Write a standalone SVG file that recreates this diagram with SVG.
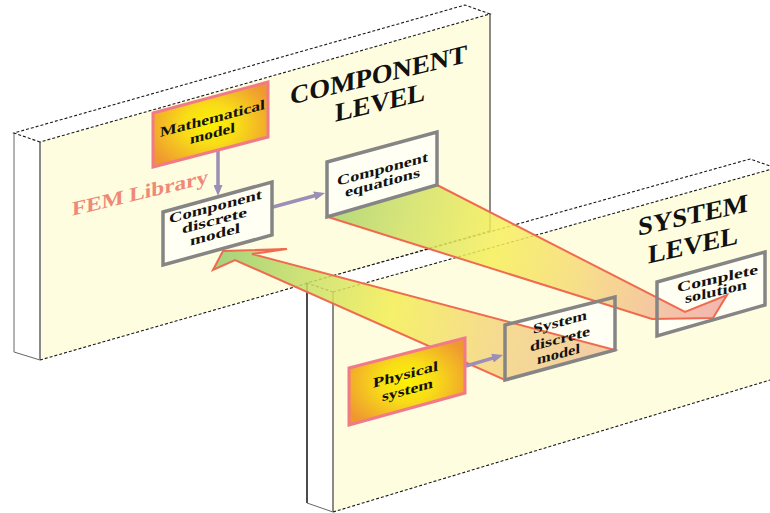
<svg xmlns="http://www.w3.org/2000/svg" width="770" height="513" viewBox="0 0 770 513">
<defs>
<style>
.dash{fill:none;stroke:#1a1a1a;stroke-width:1.1;stroke-dasharray:3 2}
.face{fill:#fefddf}
.side{fill:#ffffff}
.edge{fill:none;stroke:#8a8a8a;stroke-width:2}
.edgek{fill:none;stroke:#111;stroke-width:1.5}
.thin{fill:none;stroke:#666;stroke-width:1}
.box{fill:none;stroke:#858585;stroke-width:3.5;stroke-linejoin:miter}
.boxfill{fill:#fffff3}
.src{fill:url(#srcGrad);stroke:#f07a88;stroke-width:3}
.t{font-family:"Liberation Serif","Times New Roman",serif;font-weight:bold;font-size:14px;fill:#111;text-anchor:middle}
.title{font-size:26px}
.fem{font-size:20px;fill:#f08878}
.link{stroke:#9c8eb6;stroke-width:3.5;fill:none;marker-end:url(#ah)}
.big{stroke:#f06a50;stroke-width:2;stroke-linejoin:miter;fill-opacity:0.85}
</style>
<radialGradient id="srcGrad" cx="0.5" cy="0.5" r="0.6">
<stop offset="0" stop-color="#fff200"/>
<stop offset="0.4" stop-color="#f8dc18"/>
<stop offset="1" stop-color="#ef9830"/>
</radialGradient>
<linearGradient id="g1" gradientUnits="userSpaceOnUse" x1="330" y1="205" x2="720" y2="315">
<stop offset="0" stop-color="#a9d26a"/>
<stop offset="0.18" stop-color="#cfe068"/>
<stop offset="0.42" stop-color="#f6ef5a"/>
<stop offset="0.62" stop-color="#f6dc78"/>
<stop offset="0.85" stop-color="#f3bc98"/>
<stop offset="1" stop-color="#f0aaa4"/>
</linearGradient>
<linearGradient id="g2" gradientUnits="userSpaceOnUse" x1="215" y1="255" x2="610" y2="360">
<stop offset="0" stop-color="#96cb6c"/>
<stop offset="0.2" stop-color="#c2dc66"/>
<stop offset="0.45" stop-color="#f4ee56"/>
<stop offset="0.7" stop-color="#f4d680"/>
<stop offset="1" stop-color="#f0c498"/>
</linearGradient>
<marker id="ah" markerUnits="userSpaceOnUse" markerWidth="11" markerHeight="9" refX="2" refY="4.5" orient="auto">
<path d="M0,0 L11,4.5 L0,9 z" fill="#9c8eb6"/>
</marker>
</defs>

<g id="component-panel">
<polygon class="side" points="14,133 40,142 40,360 14,352"/>
<polygon class="side" points="14,133 465,5 490,14 40,142"/>
<polygon class="face" points="40,142 490,14 490,231 40,360"/>
<line class="thin" x1="14" y1="133" x2="14" y2="352"/>
<line class="thin" x1="14" y1="352" x2="40" y2="360"/>
<line class="edge" x1="40" y1="142" x2="40" y2="360"/>
<line class="edge" x1="490" y1="14" x2="490" y2="231"/>
<polyline class="dash" points="40,142 14,133 465,5 490,14 40,142"/>
<line class="dash" x1="40" y1="360" x2="490" y2="231"/>
<text class="t title" transform="translate(378.5,83.5) skewY(-13.5)" textLength="177" lengthAdjust="spacingAndGlyphs">COMPONENT</text>
<text class="t title" transform="translate(380,111) skewY(-13.5)" textLength="90" lengthAdjust="spacingAndGlyphs">LEVEL</text>
<text class="t fem" transform="translate(140,199.5) skewY(-13.5)" textLength="136" lengthAdjust="spacingAndGlyphs">FEM Library</text>
<polygon class="boxfill" points="163,212 272,182 272,235 163,265"/>
<polygon class="boxfill" points="327,162 437,132 437,185 327,217"/>
</g>

<g id="system-panel">
<polygon class="side" points="307,283 333,292 333,512 307,503"/>
<polygon class="side" points="307,283 750,159 776,168 333,292"/>
<polygon class="face" points="333,292 790,164 790,374 333,512"/>
<line class="edgek" x1="307" y1="283" x2="307" y2="503"/>
<line class="thin" x1="307" y1="503" x2="333" y2="512"/>
<line class="edge" x1="333" y1="292" x2="333" y2="512"/>
<polyline class="dash" points="333,292 307,283 750,159 776,168"/>
<line class="dash" x1="333" y1="292" x2="790" y2="164"/>
<line class="dash" x1="333" y1="512" x2="790" y2="374"/>
<text class="t title" transform="translate(693,223.5) skewY(-12.5)" textLength="110" lengthAdjust="spacingAndGlyphs">SYSTEM</text>
<text class="t title" transform="translate(693,253.5) skewY(-12.5)" textLength="90" lengthAdjust="spacingAndGlyphs">LEVEL</text>
<polygon class="boxfill" points="505,325 615,297 615,350 505,380"/>
<polygon class="boxfill" points="657,282 765,252 765,305 657,336"/>
</g>

<g id="connectors">
<polygon class="big" fill="url(#g1)" points="437,185 685,312 727,295 713,318 652,319 328,217"/>
<polygon class="big" fill="url(#g2)" points="223,251 287,249 252,254 615,350 505,380 235,260 213,270"/>
<line class="link" x1="218" y1="150" x2="218" y2="187"/>
<line class="link" x1="273" y1="207" x2="316.3" y2="195.3"/>
<line class="link" x1="466" y1="366" x2="494.4" y2="357.6"/>
</g>

<g id="mathematical-model">
<polygon class="src" points="153,113 268,82 268,137 153,167"/>
<text class="t" transform="translate(212.5,123) skewY(-15)" textLength="105" lengthAdjust="spacingAndGlyphs">Mathematical</text>
<text class="t" transform="translate(212.5,138) skewY(-15)" textLength="45" lengthAdjust="spacingAndGlyphs">model</text>
</g>

<g id="component-discrete-model">
<polygon class="box" points="163,212 272,182 272,235 163,265"/>
<text class="t" transform="translate(215.5,211) skewY(-15)" textLength="93" lengthAdjust="spacingAndGlyphs">Component</text>
<text class="t" transform="translate(214.5,225) skewY(-15)" textLength="65" lengthAdjust="spacingAndGlyphs">discrete</text>
<text class="t" transform="translate(215,239) skewY(-15)" textLength="50" lengthAdjust="spacingAndGlyphs">model</text>
</g>

<g id="component-equations">
<polygon class="box" points="327,162 437,132 437,185 327,217"/>
<text class="t" transform="translate(382.5,173.5) skewY(-15)" textLength="91" lengthAdjust="spacingAndGlyphs">Component</text>
<text class="t" transform="translate(382.5,187) skewY(-15)" textLength="75" lengthAdjust="spacingAndGlyphs">equations</text>
</g>

<g id="system-discrete-model">
<polygon class="box" points="505,325 615,297 615,350 505,380"/>
<text class="t" transform="translate(560,326.5) skewY(-15)" textLength="54" lengthAdjust="spacingAndGlyphs">System</text>
<text class="t" transform="translate(560,343.5) skewY(-15)" textLength="60" lengthAdjust="spacingAndGlyphs">discrete</text>
<text class="t" transform="translate(558.5,358.5) skewY(-15)" textLength="43" lengthAdjust="spacingAndGlyphs">model</text>
</g>

<g id="complete-solution">
<polygon class="box" points="657,282 765,252 765,305 657,336"/>
<text class="t" transform="translate(717.5,283) skewY(-13)" textLength="81" lengthAdjust="spacingAndGlyphs">Complete</text>
<text class="t" transform="translate(716,296) skewY(-13)" textLength="62" lengthAdjust="spacingAndGlyphs">solution</text>
</g>

<g id="physical-system">
<polygon class="src" points="349,368 465,338 465,393 349,425"/>
<text class="t" transform="translate(405.5,379) skewY(-15)" textLength="65" lengthAdjust="spacingAndGlyphs">Physical</text>
<text class="t" transform="translate(407.5,394.5) skewY(-15)" textLength="51" lengthAdjust="spacingAndGlyphs">system</text>
</g>
</svg>
